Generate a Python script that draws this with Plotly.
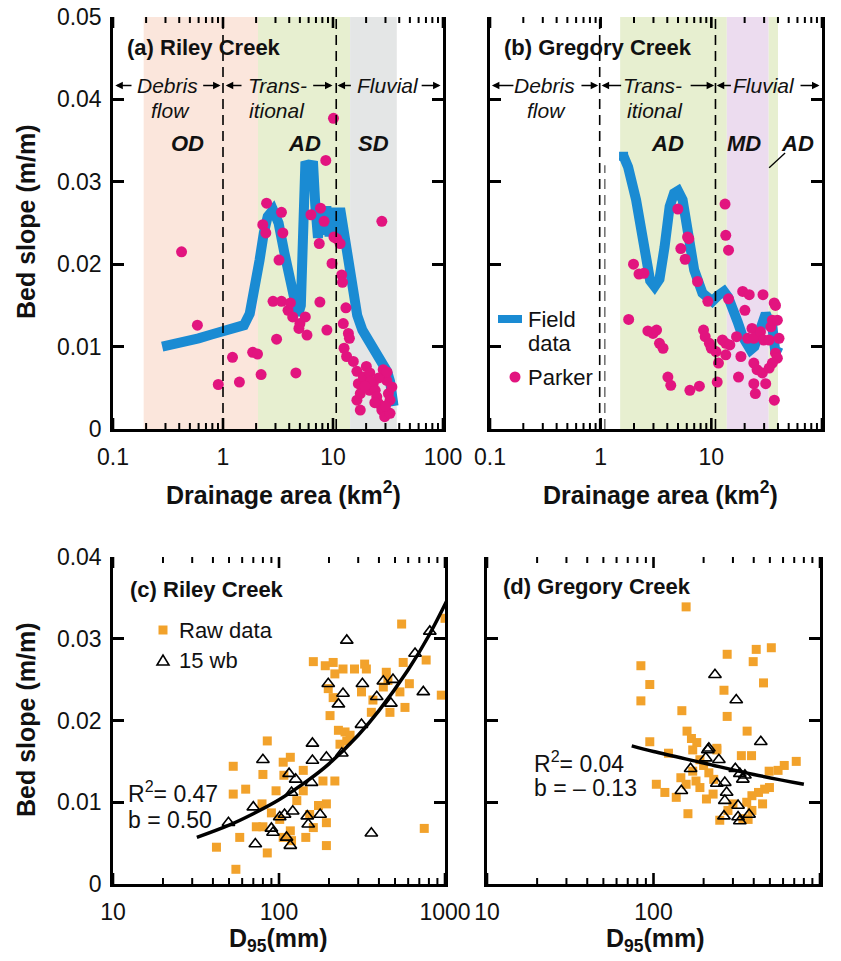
import math
import plotly.graph_objects as go

# ---------------- data ----------------
# (a) Riley Creek: field data (bed slope vs drainage area)
a_field_x = [0.28, 0.4, 0.6, 0.8, 1.0, 1.3, 1.55, 1.75, 1.95, 2.15, 2.35, 2.55, 2.85, 3.2, 3.6, 4.0, 4.4, 4.8, 5.1,
             5.35, 5.6, 6.0, 6.6, 6.9, 7.3, 7.7, 8.2, 8.7, 9.3, 10.0, 10.8, 11.6, 12.4, 13.2, 14.2, 15.2, 16.6,
             18.5, 21.6, 25.0, 28.0, 31.0, 33.0, 34.5, 35.5]
a_field_y = [0.0100, 0.0104, 0.0110, 0.0115, 0.0118, 0.0121, 0.0126, 0.0140, 0.0170, 0.0205, 0.0238, 0.0258, 0.0266,
             0.0250, 0.0215, 0.0185, 0.0155, 0.0138, 0.0150, 0.0215, 0.0320, 0.0321, 0.0320, 0.0272, 0.0232, 0.0268,
             0.0236, 0.0270, 0.0234, 0.0268, 0.0236, 0.0268, 0.0240, 0.0230, 0.0200, 0.0170, 0.0138, 0.0120, 0.0106,
             0.0094, 0.0084, 0.0070, 0.0058, 0.0042, 0.0028]
a_parker_x = [0.42, 0.585, 0.906, 1.22, 1.41, 1.86, 2.06, 2.22, 2.30, 2.45, 2.49, 2.85, 3.07, 3.23, 3.4, 3.4, 3.5,
              3.9, 4.1, 4.3, 4.6, 4.9, 5.0, 5.6, 5.8, 6.3, 7.5, 7.6, 7.7, 8.3, 8.6, 8.8, 9.8, 10.1, 10.2, 10.8,
              11.6, 12.0, 12.2, 12.4, 12.6, 13.1, 13.3, 13.8, 14.1, 15.3, 16.5, 16.5, 17.0, 17.7, 17.7, 18.9,
              20.1, 21.6, 21.6, 23.2, 24.2, 25.0, 25.9, 27.8, 27.8, 28.6, 29.5, 30.8, 31.9, 33.0, 33.0, 34.3,
              26.0, 22.0, 19.5, 30.0, 24.0, 31.0]
a_parker_y = [0.0215, 0.0126, 0.0054, 0.0087, 0.0057, 0.0093, 0.0091, 0.0066, 0.0248, 0.0238, 0.0274, 0.0155,
              0.0109, 0.0205, 0.0263, 0.0155, 0.0238, 0.0144, 0.0153, 0.0136, 0.0068, 0.0122, 0.0128, 0.0136,
              0.0114, 0.0260, 0.0225, 0.0154, 0.0268, 0.0252, 0.0326, 0.0120, 0.0201, 0.0377, 0.0233, 0.0231,
              0.0225, 0.0187, 0.0178, 0.0128, 0.0098, 0.0147, 0.0088, 0.0116, 0.0110, 0.0082, 0.0070, 0.0035,
              0.0055, 0.0043, 0.0023, 0.0063, 0.0076, 0.0068, 0.0047, 0.0055, 0.0047, 0.0039, 0.0031, 0.0023,
              0.0252, 0.0072, 0.0015, 0.0059, 0.0043, 0.0035, 0.0019, 0.0051, 0.0062, 0.0058, 0.0052, 0.0028,
              0.0032, 0.0069]

# (b) Gregory Creek
b_field_x = [1.61, 1.77, 2.09, 2.35, 2.6, 2.8, 3.07, 3.4, 3.78, 4.2, 4.6, 5.0, 5.5, 6.1, 7.0, 8.3, 9.5, 10.2,
             11.5, 13.0, 14.2, 15.6, 17.3, 19.2, 21.0, 22.6, 24.5, 27.0, 29.0, 31.0, 33.0, 35.6, 38.0, 40.5]
b_field_y = [0.0331, 0.0318, 0.0278, 0.0235, 0.0200, 0.0180, 0.0173, 0.0182, 0.0221, 0.0270, 0.0286, 0.0289,
             0.0278, 0.0238, 0.0193, 0.0165, 0.0157, 0.0155, 0.0162, 0.0167, 0.0160, 0.0148, 0.0130, 0.0112,
             0.0102, 0.0096, 0.0100, 0.0120, 0.0135, 0.0140, 0.0132, 0.0124, 0.0092, 0.0100]
b_parker_x = [4.98, 6.1, 13.3, 13.5, 14.3, 6.26, 5.3, 5.8, 1.98, 2.22, 2.46, 7.5, 9.3, 14.3, 19.2, 22.0, 29.3,
              20.1, 37.0, 1.79, 2.67, 2.97, 3.2, 3.4, 3.66, 4.05, 4.3, 6.4, 7.8, 8.5, 8.8, 9.6, 10.0, 11.0,
              11.6, 11.3, 12.6, 13.5, 14.7, 13.5, 16.9, 18.5, 17.6, 21.3, 23.3, 24.2, 24.2, 25.9, 24.2, 25.0,
              27.8, 29.7, 28.9, 31.0, 33.3, 34.5, 35.6, 39.5, 40.9, 38.0, 39.5, 35.6, 33.3, 37.1, 38.0]
b_parker_y = [0.0267, 0.0233, 0.0273, 0.0235, 0.0217, 0.0231, 0.0219, 0.0206, 0.0200, 0.0188, 0.0189, 0.0179,
              0.0155, 0.0158, 0.0167, 0.0163, 0.0163, 0.0144, 0.0153, 0.0133, 0.0119, 0.0116, 0.0120, 0.0104,
              0.0098, 0.0063, 0.0053, 0.0047, 0.0052, 0.0120, 0.0112, 0.0104, 0.0098, 0.0094, 0.0080, 0.0057,
              0.0108, 0.0104, 0.0102, 0.0090, 0.0112, 0.0088, 0.0063, 0.0110, 0.0122, 0.0110, 0.0080, 0.0072,
              0.0055, 0.0043, 0.0118, 0.0108, 0.0068, 0.0055, 0.0108, 0.0124, 0.0132, 0.0132, 0.0110, 0.0092,
              0.0086, 0.0080, 0.0074, 0.0035, 0.0150]

# (c) Riley Creek: bed slope vs D95
c_raw_x = [548, 1000, 161, 190, 212, 217, 243, 285, 328, 336, 198, 212, 203, 228, 250, 256, 268, 314, 368, 360,
           443, 453, 425, 560, 770, 610, 535, 950, 466, 574, 85, 53, 80, 106, 117, 107, 53, 63, 96, 79, 90,
           73, 80, 58, 42, 55, 85, 117, 119, 140, 145, 184, 217, 193, 193, 193, 161, 140, 233, 750, 128,
           101, 106, 173, 153]
c_raw_y = [0.0318, 0.0325, 0.0272, 0.0267, 0.0271, 0.0257, 0.0263, 0.0263, 0.0269, 0.0263, 0.0239, 0.0228,
           0.0206, 0.0188, 0.0186, 0.0175, 0.0182, 0.0235, 0.0225, 0.0210, 0.0259, 0.0249, 0.0241, 0.0271,
           0.0274, 0.0245, 0.0235, 0.0231, 0.0210, 0.0216, 0.0175, 0.0144, 0.0134, 0.0149, 0.0155, 0.0133,
           0.0110, 0.0116, 0.0114, 0.0098, 0.0087, 0.0070, 0.0070, 0.0057, 0.0045, 0.0018, 0.0038, 0.0065,
           0.0053, 0.0114, 0.0057, 0.0126, 0.0126, 0.0098, 0.0075, 0.0047, 0.0069, 0.0139, 0.0171, 0.0068,
           0.0102, 0.0079, 0.0057, 0.0096, 0.0085]
c_wb_x = [256, 198, 243, 228, 318, 425, 486, 388, 472, 740, 660, 810, 314, 159, 80, 159, 193, 239, 115, 126,
          157, 119, 70, 121, 101, 148, 177, 150, 90, 92, 49.6, 111, 72, 117, 360, 108]
c_wb_y = [0.0298, 0.0245, 0.0233, 0.0220, 0.0245, 0.0248, 0.0250, 0.0229, 0.0221, 0.0235, 0.0282, 0.0309,
          0.0195, 0.0172, 0.0152, 0.0151, 0.0155, 0.0160, 0.0135, 0.0128, 0.0124, 0.0112, 0.0094, 0.0089,
          0.0082, 0.0083, 0.0085, 0.0073, 0.0068, 0.0063, 0.0075, 0.0057, 0.0049, 0.0047, 0.0062, 0.0085]
c_fit_x = [32, 50, 70, 100, 150, 200, 300, 400, 600, 800, 1100]
c_fit_y = [0.0057, 0.0072, 0.0086, 0.0103, 0.0127, 0.0147, 0.0182, 0.0212, 0.0262, 0.0304, 0.0359]

# (d) Gregory Creek
d_raw_x = [157, 277, 414, 510, 397, 84, 95, 84, 458, 265, 148, 277, 365, 159, 169, 182, 95, 172, 240, 123,
           337, 388, 720, 610, 560, 495, 497, 465, 427, 390, 452, 363, 104, 117, 137, 146, 157, 180, 190, 208,
           228, 280, 300, 161, 250, 344, 390, 370, 190, 240, 172, 215, 200, 230]
d_raw_y = [0.0339, 0.0281, 0.0287, 0.0289, 0.0272, 0.0267, 0.0244, 0.0224, 0.0246, 0.0237, 0.0212, 0.0205,
           0.0187, 0.0187, 0.0178, 0.0173, 0.0174, 0.0164, 0.0166, 0.0160, 0.0157, 0.0157, 0.0150, 0.0145,
           0.0139, 0.0138, 0.0118, 0.0116, 0.0112, 0.0108, 0.0098, 0.0100, 0.0122, 0.0112, 0.0106, 0.0130,
           0.0122, 0.0126, 0.0118, 0.0104, 0.0110, 0.0090, 0.0098, 0.0086, 0.0078, 0.0080, 0.0090, 0.0079,
           0.0152, 0.0164, 0.0138, 0.0136, 0.0145, 0.0128]
d_wb_x = [234, 314, 441, 215, 212, 247, 206, 167, 310, 330, 354, 344, 268, 240, 275, 147, 268, 322, 265, 375,
          322, 330]
d_wb_y = [0.0256, 0.0225, 0.0174, 0.0166, 0.0164, 0.0152, 0.0154, 0.0141, 0.0141, 0.0135, 0.0133, 0.0128,
          0.0124, 0.0123, 0.0112, 0.0114, 0.0102, 0.0096, 0.0083, 0.0085, 0.0082, 0.0077]
d_fit_x = [74, 100, 200, 400, 800]
d_fit_y = [0.0169, 0.0162, 0.0148, 0.0134, 0.0122]

top_major = [0.1, 1, 10, 100]
top_major_text = ["0.1", "1", "10", "100"]
bot_major = [10, 100, 1000]
bot_major_text = ["10", "100", "1000"]
top_yticks = [0, 0.01, 0.02, 0.03, 0.04, 0.05]
top_ytext = ["0", "0.01", "0.02", "0.03", "0.04", "0.05"]
bot_yticks = [0, 0.01, 0.02, 0.03, 0.04]
bot_ytext = ["0", "0.01", "0.02", "0.03", "0.04"]
top_minor = [m * 10 ** e for e in (-1, 0, 1) for m in range(2, 10)]
bot_minor = [m * 10 ** e for e in (1, 2) for m in range(2, 10)]

# ---------------- style ----------------
W, H = 841, 961
FONT = "Liberation Sans, Arial, sans-serif"
BLUE = "#1a8bd3"
MAG = "#e2147f"
ORANGE = "#f2a22b"
PINK = "#fbe6dc"
GREEN = "#e7efd0"
GRAY = "#e4e6e6"
PURPLE = "#ecdcef"


def px(x):
    return x / W


def py(y):
    return 1 - y / H


dom = {
    "a": ([px(113), px(443)], [py(429), py(17)]),
    "b": ([px(490), px(822)], [py(429), py(17)]),
    "c": ([px(113), px(445)], [py(884), py(557)]),
    "d": ([px(487), px(820)], [py(884), py(557)]),
}
TOP_RANGE = [-1, 2]
BOT_RANGE = [1, 3]
TOP_Y = [0, 0.05]
BOT_Y = [0, 0.04]

fig = go.Figure()

# traces
fig.add_trace(go.Scatter(x=a_field_x, y=a_field_y, mode="lines", line=dict(color=BLUE, width=10),
                         xaxis="x", yaxis="y", hoverinfo="skip"))
fig.add_trace(go.Scatter(x=a_parker_x, y=a_parker_y, mode="markers", marker=dict(color=MAG, size=11),
                         xaxis="x", yaxis="y"))
fig.add_trace(go.Scatter(x=b_field_x, y=b_field_y, mode="lines", line=dict(color=BLUE, width=10),
                         xaxis="x2", yaxis="y2"))
fig.add_trace(go.Scatter(x=b_field_x[:1], y=b_field_y[:1], mode="markers",
                         marker=dict(color=BLUE, size=9, symbol="square"), xaxis="x2", yaxis="y2"))
fig.add_trace(go.Scatter(x=b_parker_x, y=b_parker_y, mode="markers", marker=dict(color=MAG, size=11),
                         xaxis="x2", yaxis="y2"))
fig.add_trace(go.Scatter(x=c_raw_x, y=c_raw_y, mode="markers",
                         marker=dict(color=ORANGE, size=9, symbol="square"), xaxis="x3", yaxis="y3"))
fig.add_trace(go.Scatter(x=c_wb_x, y=c_wb_y, mode="markers",
                         marker=dict(color="black", size=11, symbol="triangle-up-open",
                                     line=dict(color="black", width=1.6)), xaxis="x3", yaxis="y3"))
fig.add_trace(go.Scatter(x=c_fit_x, y=c_fit_y, mode="lines", line=dict(color="black", width=3.5, shape="spline"),
                         xaxis="x3", yaxis="y3"))
fig.add_trace(go.Scatter(x=d_raw_x, y=d_raw_y, mode="markers",
                         marker=dict(color=ORANGE, size=9, symbol="square"), xaxis="x4", yaxis="y4"))
fig.add_trace(go.Scatter(x=d_wb_x, y=d_wb_y, mode="markers",
                         marker=dict(color="black", size=11, symbol="triangle-up-open",
                                     line=dict(color="black", width=1.6)), xaxis="x4", yaxis="y4"))
fig.add_trace(go.Scatter(x=d_fit_x, y=d_fit_y, mode="lines", line=dict(color="black", width=3.5, shape="spline"),
                         xaxis="x4", yaxis="y4"))

# x-axis tick marks (inside, bottom and top) drawn on each subplot's own scales
for xa, ya, yr, major, minor, pxh in (("x", "y", TOP_Y, top_major, top_minor, 412),
                                      ("x2", "y2", TOP_Y, top_major, top_minor, 412),
                                      ("x3", "y3", BOT_Y, bot_major, bot_minor, 327),
                                      ("x4", "y4", BOT_Y, bot_major, bot_minor, 327)):
    per_px = (yr[1] - yr[0]) / pxh
    for vals, ln, wd in ((major, 11, 2.6), (minor, 6, 2.0)):
        xs, ys = [], []
        for v in vals:
            xs += [v, v, None, v, v, None]
            ys += [yr[0], yr[0] + ln * per_px, None, yr[1], yr[1] - ln * per_px, None]
        fig.add_trace(go.Scatter(x=xs, y=ys, mode="lines", line=dict(color="black", width=wd),
                                 xaxis=xa, yaxis=ya, hoverinfo="skip", cliponaxis=False))


def xaxis(domain, anchor, rng, major, text):
    return dict(domain=domain, anchor=anchor, type="log", range=rng, tickmode="array", tickvals=major,
                ticktext=text, ticks="", showline=True, linewidth=2.5, linecolor="black", mirror=False,
                showgrid=False, zeroline=False, automargin=False,
                tickfont=dict(family=FONT, size=23, color="#111"), ticklabelstandoff=6)


def yaxis(domain, anchor, rng, tv, tt, labels):
    return dict(domain=domain, anchor=anchor, range=rng, tickmode="array", tickvals=tv, ticktext=tt,
                ticks="inside", ticklen=11, tickwidth=2.6, tickcolor="black", showline=True, linewidth=2.5,
                linecolor="black", mirror="ticks", showgrid=False, zeroline=False, showticklabels=labels,
                automargin=False, tickfont=dict(family=FONT, size=23, color="#111"), ticklabelstandoff=4)


fig.update_layout(
    width=W, height=H, margin=dict(l=0, r=0, t=0, b=0, autoexpand=False), showlegend=False,
    plot_bgcolor="white", paper_bgcolor="white", font=dict(family=FONT, color="#111"),
    xaxis=xaxis(dom["a"][0], "y", TOP_RANGE, top_major, top_major_text),
    xaxis2=xaxis(dom["b"][0], "y2", TOP_RANGE, top_major, top_major_text),
    xaxis3=xaxis(dom["c"][0], "y3", BOT_RANGE, bot_major, bot_major_text),
    xaxis4=xaxis(dom["d"][0], "y4", BOT_RANGE, bot_major, bot_major_text),
    yaxis=yaxis(dom["a"][1], "x", TOP_Y, top_yticks, top_ytext, True),
    yaxis2=yaxis(dom["b"][1], "x2", TOP_Y, top_yticks, top_ytext, False),
    yaxis3=yaxis(dom["c"][1], "x3", BOT_Y, bot_yticks, bot_ytext, True),
    yaxis4=yaxis(dom["d"][1], "x4", BOT_Y, bot_yticks, bot_ytext, False),
)


def fr(v, rng):
    return (math.log10(v) - rng[0]) / (rng[1] - rng[0])


shapes = []


def band(xr, v0, v1, color, top):
    shapes.append(dict(type="rect", xref=f"{xr} domain", yref=xr.replace("x", "y"),
                       x0=fr(v0, TOP_RANGE), x1=fr(v1, TOP_RANGE), y0=0, y1=top,
                       fillcolor=color, line=dict(width=0), layer="below"))


band("x", 0.19, 2.08, PINK, 0.05)
band("x", 2.08, 14.3, GREEN, 0.05)
band("x", 14.3, 38, GRAY, 0.05)
band("x2", 1.5, 13.8, GREEN, 0.05)
band("x2", 13.8, 33, PURPLE, 0.05)
band("x2", 33, 40, GREEN, 0.05)


def vdash(xr, v, color="black", top=1.0):
    shapes.append(dict(type="line", xref=f"{xr} domain", yref=f"{xr.replace('x', 'y')} domain",
                       x0=fr(v, TOP_RANGE), x1=fr(v, TOP_RANGE), y0=0, y1=top,
                       line=dict(color=color, width=1.6, dash="10px,6px"), layer="above"))


vdash("x", 1.0)
vdash("x", 10.7)
vdash("x2", 0.98)
vdash("x2", 1.09, "#777", 0.64)
vdash("x2", 10.9)

# pointer line for right "AD" in (b)
shapes.append(dict(type="line", xref="x2 domain", yref="y2", x0=fr(33.3, TOP_RANGE), x1=fr(46.4, TOP_RANGE),
                   y0=0.0317, y1=0.0335, line=dict(color="black", width=1.3)))

# legend symbols (b) and (c)
shapes.append(dict(type="line", xref="paper", yref="paper", x0=px(498), x1=px(522), y0=py(319), y1=py(319),
                   line=dict(color=BLUE, width=8)))
shapes.append(dict(type="circle", xref="paper", yref="paper", x0=px(509.5), x1=px(520.5), y0=py(382.5),
                   y1=py(371.5), fillcolor=MAG, line=dict(width=0)))
shapes.append(dict(type="rect", xref="paper", yref="paper", x0=px(158.5), x1=px(167.5), y0=py(634.5),
                   y1=py(625.5), fillcolor=ORANGE, line=dict(width=0)))
shapes.append(dict(type="path", xref="paper", yref="paper",
                   path=f"M {px(157)} {py(665)} L {px(169)} {py(665)} L {px(163)} {py(655)} Z",
                   fillcolor="rgba(0,0,0,0)", line=dict(color="black", width=1.6)))

fig.update_layout(shapes=shapes)

ann = []


def txt(text, x, y, size, xref="paper", yref="paper", xanchor="center", angle=0, yanchor="middle"):
    ann.append(dict(text=text, x=x, y=y, xref=xref, yref=yref, showarrow=False, xanchor=xanchor,
                    yanchor=yanchor, textangle=angle, font=dict(family=FONT, size=size, color="#111")))


def arrow(xr, head, tail, y):
    ann.append(dict(text="", xref=xr, yref=xr.replace("x", "y"), axref=xr, ayref=xr.replace("x", "y"),
                    x=math.log10(head), y=y, ax=math.log10(tail), ay=y, showarrow=True, arrowhead=2,
                    arrowsize=1, arrowwidth=1.5, arrowcolor="black"))


# axis titles
txt("<b>Bed slope (m/m)</b>", px(26), py(222), 25, angle=-90)
txt("<b>Bed slope (m/m)</b>", px(26), py(720), 25, angle=-90)
txt("<b>Drainage area (km<sup>2</sup>)</b>", px(283), py(493), 25)
txt("<b>Drainage area (km<sup>2</sup>)</b>", px(660), py(493), 25)
txt("<b>D<sub>95</sub>(mm)</b>", px(278), py(940), 25)
txt("<b>D<sub>95</sub>(mm)</b>", px(655), py(940), 25)

# panel titles
txt("<b>(a) Riley Creek</b>", px(125), py(47), 22, xanchor="left")
txt("<b>(b) Gregory Creek</b>", px(502), py(47), 22, xanchor="left")
txt("<b>(c) Riley Creek</b>", px(128), py(589), 22, xanchor="left")
txt("<b>(d) Gregory Creek</b>", px(501), py(586), 22, xanchor="left")

# zone labels
Y1, Y2, Y3 = 0.0417, 0.0387, 0.0347
L = math.log10
for xr, items in (
    ("x", [("<i>Debris</i>", 0.316, Y1), ("<i>flow</i>", 0.33, Y2), ("<i>Trans-</i>", 3.16, Y1),
           ("<i>itional</i>", 3.1, Y2), ("<i>Fluvial</i>", 31.6, Y1)]),
    ("x2", [("<i>Debris</i>", 0.313, Y1), ("<i>flow</i>", 0.326, Y2), ("<i>Trans-</i>", 2.94, Y1),
            ("<i>itional</i>", 3.07, Y2), ("<i>Fluvial</i>", 30, Y1)]),
):
    for t, xv, yv in items:
        txt(t, L(xv), yv, 21, xref=xr, yref=xr.replace("x", "y"))

for t, xv in (("OD", 0.48), ("AD", 5.56), ("SD", 23.1)):
    txt(f"<b><i>{t}</i></b>", L(xv), Y3, 22, xref="x", yref="y")
for t, xv in (("AD", 4.02), ("MD", 19.8), ("AD", 59.6)):
    txt(f"<b><i>{t}</i></b>", L(xv), Y3, 22, xref="x2", yref="y2")

# zone arrows
for h, t in ((0.105, 0.152), (0.95, 0.64), (1.06, 1.52), (9.9, 6.4), (11.0, 15.0), (95, 62)):
    arrow("x", h, t, Y1)
for h, t in ((0.104, 0.168), (0.95, 0.65), (1.02, 1.58), (10.6, 6.3), (11.2, 15.5), (95, 62)):
    arrow("x2", h, t, Y1)

# legends
txt("Field", px(526), py(319), 22, xanchor="left")
txt("data", px(526), py(343), 22, xanchor="left")
txt("Parker", px(526), py(377), 22, xanchor="left")
txt("Raw data", px(177), py(630), 22, xanchor="left")
txt("15 wb", px(177), py(660), 22, xanchor="left")

# fit statistics
txt("R<sup>2</sup>= 0.47", px(126), py(792), 23, xanchor="left")
txt("b = 0.50", px(126), py(820), 23, xanchor="left")
txt("R<sup>2</sup>= 0.04", px(532), py(762), 23, xanchor="left")
txt("b = \u2013 0.13", px(532), py(788), 23, xanchor="left")

fig.update_layout(annotations=ann)
fig.write_html("out.html")
